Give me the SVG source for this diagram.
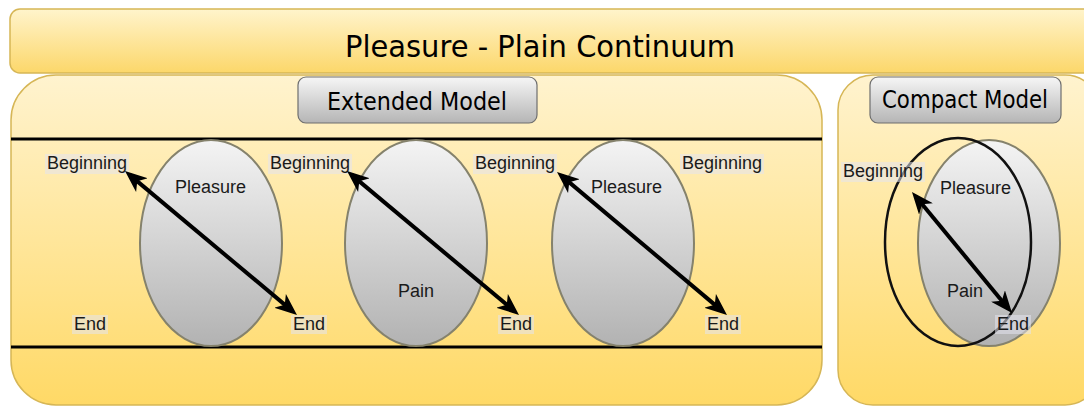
<svg xmlns="http://www.w3.org/2000/svg" width="1084" height="408" viewBox="0 0 1084 408">
  <defs>
    <linearGradient id="gYellow" x1="0" y1="0" x2="0" y2="1">
      <stop offset="0" stop-color="#fff3cf"/>
      <stop offset="1" stop-color="#ffd966"/>
    </linearGradient>
    <linearGradient id="gBanner" x1="0" y1="0" x2="0" y2="1">
      <stop offset="0" stop-color="#fff4cc"/>
      <stop offset="1" stop-color="#fcd76a"/>
    </linearGradient>
    <linearGradient id="gButton" x1="0" y1="0" x2="0" y2="1">
      <stop offset="0" stop-color="#f6f6f6"/>
      <stop offset="1" stop-color="#b5b5b5"/>
    </linearGradient>
    <linearGradient id="gEllipse" x1="0" y1="0" x2="0" y2="1">
      <stop offset="0" stop-color="#f4f4f4"/>
      <stop offset="1" stop-color="#b2b2b2"/>
    </linearGradient>
    <marker id="arrow" viewBox="0 0 22 18" markerUnits="userSpaceOnUse" markerWidth="22" markerHeight="18" refX="16" refY="9" orient="auto-start-reverse">
      <path d="M0,0 L22,9 L0,18 L6,9 z" fill="#000"/>
    </marker>
  </defs>
  <style>
    .container { stroke: #d6b656; stroke-width: 1.5; fill: url(#gYellow); }
    .banner { stroke: #d6b656; stroke-width: 1.5; fill: url(#gBanner); }
    .button { stroke: #6e6e6e; stroke-width: 1.2; fill: url(#gButton); }
    .oval { stroke: #85826c; stroke-width: 2; fill: url(#gEllipse); }
    .rule { stroke: #000; stroke-width: 3; }
    .title { font-family: "DejaVu Sans", sans-serif; fill: #000; }
    .lbl { font-family: "Liberation Sans", Arial, sans-serif; font-size: 18px; fill: #1a1a1a; }
    .lblbg { fill: #e4e4ee; fill-opacity: 0.55; }
    .conn { stroke: #000; stroke-width: 4; fill: none; marker-start: url(#arrow); marker-end: url(#arrow); }
  </style>

  <rect width="1084" height="408" fill="#ffffff"/>

  <g id="banner">
    <rect class="banner" x="10" y="9" width="1090" height="64" rx="10"/>
    <text class="title" x="540" y="57" font-size="30" text-anchor="middle" textLength="390" lengthAdjust="spacingAndGlyphs">Pleasure - Plain Continuum</text>
  </g>

  <g id="extended-model">
    <rect class="container" x="11" y="75" width="811" height="330" rx="45"/>
    <line class="rule" x1="11" y1="139" x2="822" y2="139"/>
    <line class="rule" x1="11" y1="347" x2="822" y2="347"/>
  </g>

  <g id="compact-model">
    <rect class="container" x="838" y="75" width="262" height="330" rx="35"/>
  </g>

  <g id="extended-title">
    <rect class="button" x="298" y="77" width="239" height="46" rx="8"/>
    <text class="title" x="417" y="110" font-size="24" text-anchor="middle" textLength="180" lengthAdjust="spacingAndGlyphs">Extended Model</text>
  </g>

  <g id="compact-title">
    <rect class="button" x="870" y="77" width="191" height="46" rx="8"/>
    <text class="title" x="965" y="108" font-size="24" text-anchor="middle" textLength="166" lengthAdjust="spacingAndGlyphs">Compact Model</text>
  </g>

  <g id="ellipse-1">
    <ellipse class="oval" cx="211" cy="243" rx="71" ry="103"/>
  </g>
  <g id="ellipse-2">
    <ellipse class="oval" cx="416" cy="243" rx="71" ry="103"/>
  </g>
  <g id="ellipse-3">
    <ellipse class="oval" cx="623" cy="243" rx="71" ry="103"/>
  </g>
  <g id="compact-ellipse">
    <ellipse class="oval" cx="989" cy="243" rx="71" ry="103"/>
  </g>
  <g id="compact-outline">
    <ellipse cx="958" cy="242" rx="73" ry="104" fill="none" stroke="#111" stroke-width="2.5"/>
  </g>

  <g id="labels">
    <rect class="lblbg" x="45" y="154" width="84" height="20"/>
    <text class="lbl" x="47" y="169">Beginning</text>
    <rect class="lblbg" x="268" y="154" width="84" height="20"/>
    <text class="lbl" x="270" y="169">Beginning</text>
    <rect class="lblbg" x="473" y="154" width="84" height="20"/>
    <text class="lbl" x="475" y="169">Beginning</text>
    <rect class="lblbg" x="680" y="154" width="84" height="20"/>
    <text class="lbl" x="682" y="169">Beginning</text>

    <text class="lbl" x="175" y="193">Pleasure</text>
    <text class="lbl" x="398" y="297">Pain</text>
    <text class="lbl" x="591" y="193">Pleasure</text>

    <rect class="lblbg" x="72" y="315" width="36" height="19"/>
    <text class="lbl" x="74" y="330">End</text>
    <rect class="lblbg" x="291" y="315" width="36" height="19"/>
    <text class="lbl" x="293" y="330">End</text>
    <rect class="lblbg" x="498" y="315" width="36" height="19"/>
    <text class="lbl" x="500" y="330">End</text>
    <rect class="lblbg" x="705" y="315" width="36" height="19"/>
    <text class="lbl" x="707" y="330">End</text>

    <rect class="lblbg" x="841" y="162" width="84" height="20"/>
    <text class="lbl" x="843" y="177">Beginning</text>
    <text class="lbl" x="940" y="194">Pleasure</text>
    <text class="lbl" x="947" y="297">Pain</text>
    <rect class="lblbg" x="995" y="315" width="36" height="19"/>
    <text class="lbl" x="997" y="330">End</text>
  </g>

  <g id="connectors">
    <line class="conn" x1="129.6" y1="174.9" x2="292.4" y2="311.1"/>
    <line class="conn" x1="351.6" y1="174.9" x2="514.4" y2="311.1"/>
    <line class="conn" x1="561.6" y1="175.9" x2="722.4" y2="311.1"/>
    <line class="conn" x1="915.8" y1="196.6" x2="1008.2" y2="308.4"/>
  </g>
</svg>
